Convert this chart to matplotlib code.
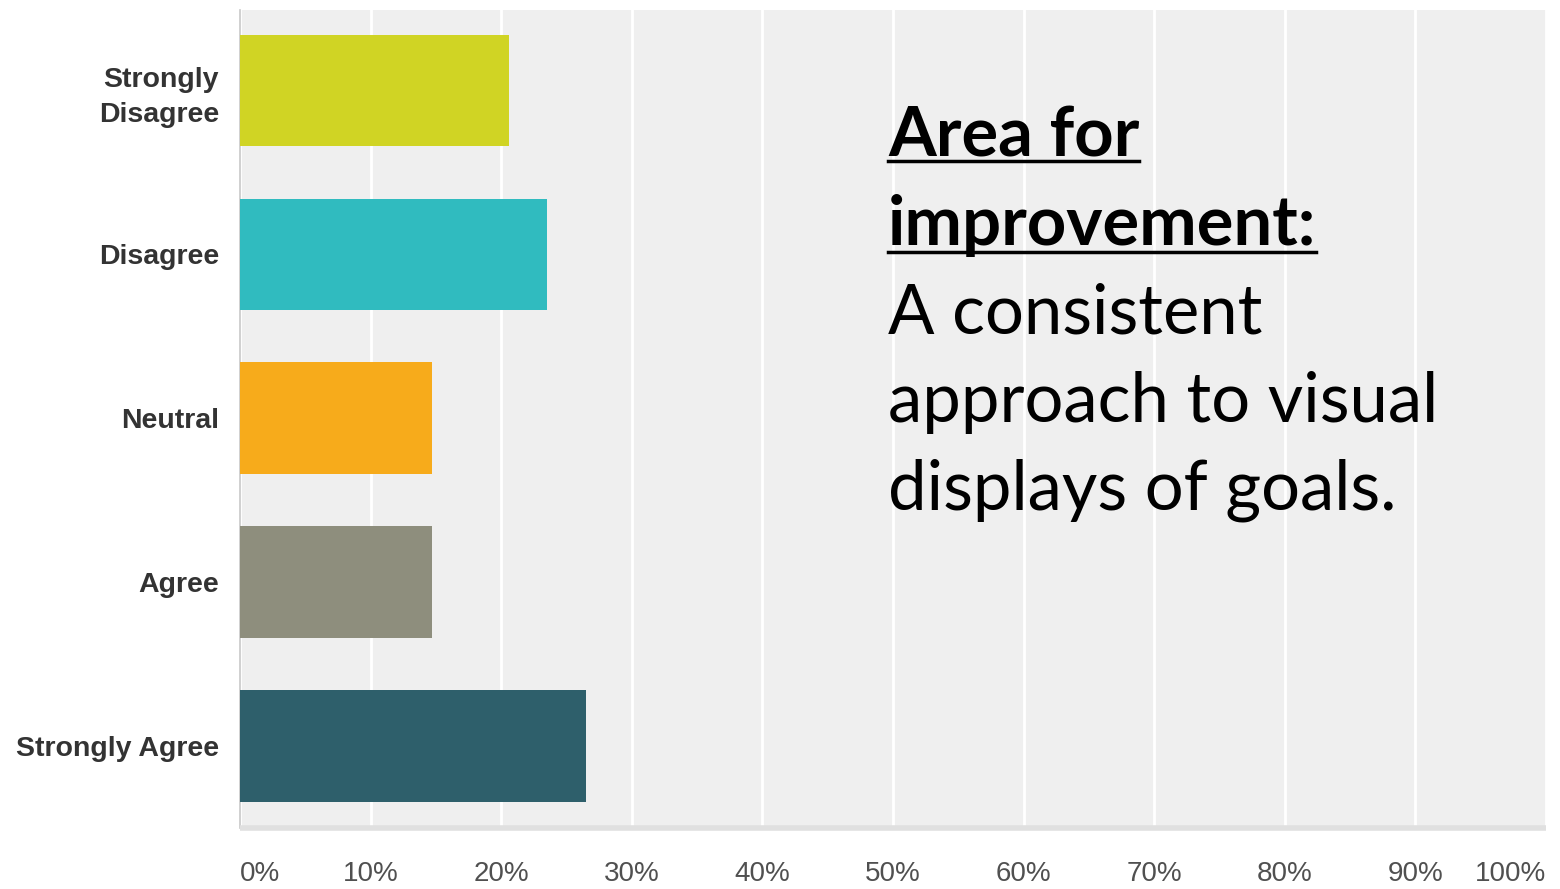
import numpy as np
import matplotlib.pyplot as plt
from matplotlib.lines import Line2D

# Survey responses (percent of respondents)
categories = ["Strongly\nDisagree", "Disagree", "Neutral", "Agree", "Strongly Agree"]
percents = [20.59, 23.53, 14.71, 14.71, 26.47]
bar_colors = ["#d0d424", "#30bbbf", "#f7ab1b", "#8e8e7d", "#2e5f6b"]
tick_vals = list(range(0, 101, 10))
tick_labels = [f"{v}%" for v in tick_vals]

note_head = ["Area for", "improvement:"]
note_body = ["A consistent", "approach to visual", "displays of goals."]

W, H = 1560, 889
fig = plt.figure(figsize=(W / 100, H / 100), dpi=100)
fig.patch.set_facecolor("white")

ax = fig.add_axes([240 / W, 1 - 828 / H, (1546 - 240) / W, (828 - 10) / H])
ax.set_facecolor("#efefef")

y = np.arange(len(categories))
ax.barh(y, percents, height=0.68, color=bar_colors, zorder=3)

ax.set_xlim(0, 100)
ax.set_ylim(4.5, -0.49)
ax.set_yticks(y)
ax.set_yticklabels(categories, fontsize=20.5, fontweight="bold", color="#333333",
                   family="Liberation Sans", ha="right", linespacing=1.45)
ax.set_xticks(tick_vals)
ax.set_xticklabels(tick_labels, fontsize=20, color="#505050", family="Liberation Sans")
labels = ax.get_xticklabels()
labels[0].set_ha("left")
labels[-1].set_ha("right")
ax.tick_params(axis="x", length=0, pad=24)
ax.tick_params(axis="y", length=0, pad=15)

ax.grid(axis="x", color="white", linewidth=2, zorder=1)
ax.grid(axis="y", visible=False)
for side in ["top", "right"]:
    ax.spines[side].set_visible(False)
ax.spines["left"].set_color("#c8c8c8")
ax.spines["left"].set_linewidth(1.2)
ax.spines["bottom"].set_color("#e0e0e0")
ax.spines["bottom"].set_linewidth(4)
ax.spines["bottom"].set_capstyle("butt")

# text note on the right
x0 = 888
baselines = [156, 245, 334, 422, 510]
texts = []
for i, line in enumerate(note_head + note_body):
    bold = i < len(note_head)
    t = fig.text(x0 / W, 1 - baselines[i] / H, line, fontsize=49.5, family="Lato",
                 fontweight="bold" if bold else "normal", color="black",
                 va="baseline", ha="left")
    texts.append(t)

fig.canvas.draw()
renderer = fig.canvas.get_renderer()
underline_y = [161, 252]
for t, uy in zip(texts[:2], underline_y):
    bb = t.get_window_extent(renderer)
    fig.add_artist(Line2D([bb.x0 / W, bb.x1 / W], [1 - uy / H, 1 - uy / H],
                          transform=fig.transFigure, color="black", linewidth=2.5))

fig.savefig("out.png", dpi=100)
